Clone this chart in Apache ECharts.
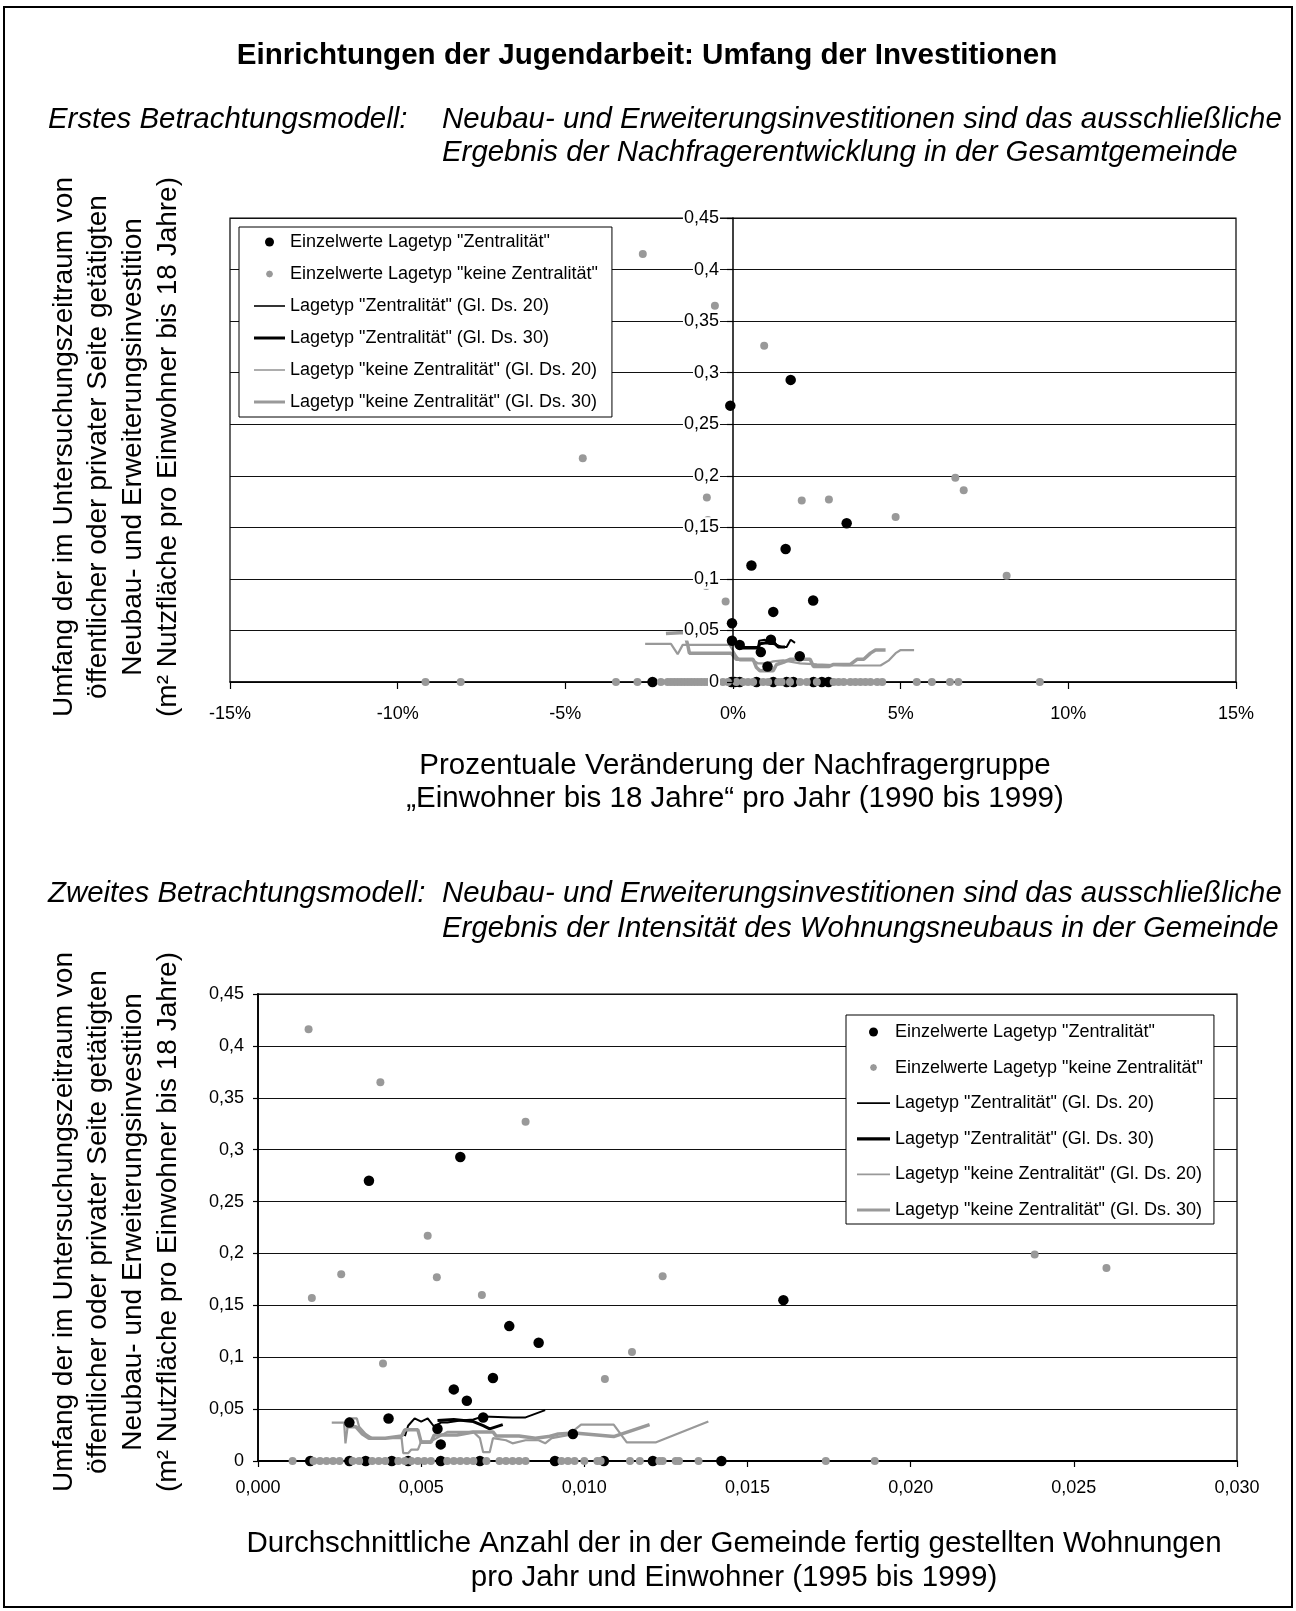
<!DOCTYPE html>
<html><head><meta charset="utf-8">
<script src="https://cdn.jsdelivr.net/npm/echarts@6/dist/echarts.min.js"></script>
<style>html,body{margin:0;padding:0;background:#fff}#c{width:1296px;height:1611px}</style>
</head><body><div id="c"></div>
<script>
const FONT = '"Liberation Sans", Arial, Helvetica, sans-serif';

// ---------- names ----------
const seriesNames = [
  'Einzelwerte Lagetyp "Zentralität"',
  'Einzelwerte Lagetyp "keine Zentralität"',
  'Lagetyp "Zentralität" (Gl. Ds. 20)',
  'Lagetyp "Zentralität" (Gl. Ds. 30)',
  'Lagetyp "keine Zentralität" (Gl. Ds. 20)',
  'Lagetyp "keine Zentralität" (Gl. Ds. 30)'
];

// ---------- ticks ----------
const topXTicks = {min: -15, max: 15, interval: 5};
const botXTicks = {min: 0, max: 0.03, interval: 0.005};
const yTicks = {min: 0, max: 0.45, interval: 0.05};

// ---------- top chart: x = % change per year, y = m² per inhabitant ----------
const topZent = [[-0.08,0.268],[1.72,0.293],[3.39,0.154],[1.57,0.129],[0.55,0.113],[2.39,0.079],[1.2,0.068],
  [-0.03,0.057],[-0.03,0.040],[0.2,0.036],[1.13,0.041],[0.83,0.029],[1.99,0.025],[1.03,0.015]];
const topZentAtZeroX = [-2.4,-0.05,0.05,0.2,0.7,1.2,1.6,1.8,2.4,2.65,2.85];
const topKeine = [[-2.69,0.415],[-0.54,0.365],[0.93,0.326],[-4.48,0.217],[6.63,0.198],[6.88,0.186],[-0.78,0.179],
  [2.05,0.176],[2.86,0.177],[4.85,0.160],[8.16,0.103],[-0.22,0.078],[-0.75,0.157],[-0.8,0.093]];
const topKeineAtZeroX = [-9.17,-8.12,-3.49,-2.85,-2.15,-1.95,-1.85,-1.75,-1.65,-1.55,-1.45,-1.35,-1.25,-1.15,-1.05,
  -0.95,-0.85,-0.75,-0.3,-0.15,0.1,0.3,0.45,0.6,0.9,1.05,1.35,1.45,1.7,2.0,2.2,2.5,3.0,3.15,3.3,3.5,3.65,3.8,3.95,
  4.1,4.3,4.45,5.48,5.93,6.47,6.72,9.15];
const topZentGd20 = [[0.22,0.034],[0.75,0.034],[0.78,0.040],[0.95,0.041],[1.05,0.038],[1.2,0.040],[1.3,0.036],
  [1.45,0.034],[1.6,0.034],[1.72,0.041],[1.85,0.038]];
const topZentGd30 = [[0.2,0.033],[0.75,0.033],[0.8,0.037],[1.0,0.038],[1.25,0.037],[1.35,0.034],[1.55,0.034]];
const topKeineGd20 = [[-2.62,0.037],[-1.85,0.037],[-1.65,0.027],[-1.5,0.036],[-0.1,0.036],[0.1,0.025],[0.2,0.021],
  [0.6,0.021],[0.75,0.018],[1.0,0.018],[1.2,0.020],[1.5,0.021],[2.0,0.018],[2.5,0.017],[3.3,0.016],[4.4,0.016],
  [4.65,0.021],[4.85,0.028],[5.0,0.031],[5.4,0.031]];
const topKeineGd30 = [[-2.0,0.047],[-1.45,0.048],[-1.35,0.036],[-1.3,0.028],[-0.05,0.028],[0.1,0.022],[0.6,0.022],
  [0.7,0.014],[0.8,0.011],[1.2,0.011],[1.3,0.017],[1.5,0.019],[1.7,0.022],[2.3,0.022],[2.4,0.015],[2.85,0.015],
  [3.0,0.017],[3.5,0.017],[3.7,0.022],[3.9,0.022],[4.1,0.028],[4.25,0.031],[4.55,0.031]];

// ---------- bottom chart: x = dwellings per year and inhabitant ----------
const botZent = [[0.0034,0.270],[0.0062,0.293],[0.0161,0.155],[0.0077,0.130],[0.0086,0.114],[0.0072,0.080],
  [0.0060,0.069],[0.0064,0.058],[0.0040,0.041],[0.0028,0.037],[0.0069,0.042],[0.0055,0.031],[0.00965,0.026],[0.0056,0.016]];
const botZentAtZeroX = [0.0016,0.0028,0.0033,0.0041,0.0046,0.0056,0.0068,0.0091,0.0106,0.0121,0.0142];
const botKeine = [[0.00155,0.416],[0.00375,0.365],[0.0082,0.327],[0.0052,0.217],[0.0238,0.199],[0.0260,0.186],
  [0.00255,0.180],[0.00548,0.177],[0.0124,0.178],[0.00165,0.157],[0.00686,0.160],[0.01146,0.105],[0.00383,0.094],[0.01063,0.079]];
const botKeineAtZeroX = [0.00106,0.0017,0.0019,0.0021,0.0023,0.0025,0.0029,0.0031,0.0035,0.0037,0.0039,0.0043,0.0045,
  0.0047,0.0049,0.0051,0.0053,0.0058,0.0060,0.0062,0.0064,0.0066,0.0070,0.0074,0.0076,0.0078,0.0080,0.0082,0.0093,
  0.0095,0.0097,0.0100,0.0104,0.0105,0.0114,0.0117,0.0123,0.0124,0.0128,0.0129,0.0135,0.0174,0.0189];
const botZentGd20 = [[0.0045,0.024],[0.0046,0.034],[0.0048,0.041],[0.0050,0.038],[0.0052,0.041],[0.0054,0.033],
  [0.0056,0.037],[0.0058,0.037],[0.0062,0.039],[0.0066,0.040],[0.0069,0.043],[0.0078,0.042],[0.0082,0.042],[0.0088,0.049]];
const botZentGd30 = [[0.0055,0.039],[0.0060,0.040],[0.0066,0.038],[0.0069,0.034],[0.0071,0.031],[0.0075,0.035]];
const botKeineGd20 = [[0.00226,0.037],[0.00264,0.037],[0.00268,0.017],[0.00278,0.041],[0.00303,0.041],[0.0031,0.033],
  [0.0033,0.026],[0.0035,0.022],[0.0044,0.022],[0.00445,0.0075],[0.0046,0.0075],[0.0047,0.011],[0.0049,0.011],
  [0.0050,0.019],[0.0053,0.019],[0.0058,0.028],[0.0066,0.028],[0.0068,0.022],[0.0069,0.0085],[0.0071,0.0085],
  [0.0072,0.022],[0.0076,0.020],[0.0078,0.017],[0.0082,0.020],[0.0086,0.020],[0.0088,0.017],[0.0090,0.022],
  [0.0095,0.025],[0.0099,0.035],[0.0109,0.035],[0.0113,0.018],[0.0122,0.018],[0.0138,0.038]];
const botKeineGd30 = [[0.0027,0.033],[0.0030,0.033],[0.0032,0.026],[0.0034,0.022],[0.0039,0.022],[0.0044,0.024],
  [0.0045,0.030],[0.0049,0.030],[0.0050,0.018],[0.0053,0.018],[0.0054,0.025],[0.0061,0.025],[0.0066,0.028],
  [0.0072,0.028],[0.0073,0.024],[0.0080,0.024],[0.0085,0.022],[0.0089,0.0235],[0.0092,0.026],[0.0097,0.027],
  [0.0109,0.0235],[0.0120,0.035]];

// ---------- texts ----------
const titleText = 'Einrichtungen der Jugendarbeit: Umfang der Investitionen';
const model1Label = 'Erstes Betrachtungsmodell:';
const model1Text = 'Neubau- und Erweiterungsinvestitionen sind das ausschließliche\nErgebnis der Nachfragerentwicklung in der Gesamtgemeinde';
const model2Label = 'Zweites Betrachtungsmodell:';
const model2Text = 'Neubau- und Erweiterungsinvestitionen sind das ausschließliche\nErgebnis der Intensität des Wohnungsneubaus in der Gemeinde';
const yName = 'Umfang der im Untersuchungszeitraum von\nöffentlicher oder privater Seite getätigten\nNeubau- und Erweiterungsinvestition\n(m² Nutzfläche pro Einwohner bis 18 Jahre)';
const xNameTop = 'Prozentuale Veränderung der Nachfragergruppe\n„Einwohner bis 18 Jahre“ pro Jahr (1990 bis 1999)';
const xNameBot = 'Durchschnittliche Anzahl der in der Gemeinde fertig gestellten Wohnungen\npro Jahr und Einwohner (1995 bis 1999)';

// ---------- build ----------
const withZero = xs => xs.map(x => [x, 0]);
const BLACK = '#000', GRAY = '#999';
const yFmt = v => String(Math.round(v * 100) / 100).replace('.', ',');

function seriesFor(xi, yi, zent, zentZ, keine, keineZ, zg20, zg30, kg20, kg30) {
  return [
    {name: seriesNames[0], type: 'scatter', xAxisIndex: xi, yAxisIndex: yi, data: zent.concat(withZero(zentZ)),
     symbolSize: 10.5, itemStyle: {color: BLACK, opacity: 1}, z: 2},
    {name: seriesNames[1], type: 'scatter', xAxisIndex: xi, yAxisIndex: yi, data: keine.concat(withZero(keineZ)),
     symbolSize: 8, itemStyle: {color: GRAY, opacity: 1}, z: 2},
    {name: seriesNames[2], type: 'line', xAxisIndex: xi, yAxisIndex: yi, data: zg20, symbol: 'none',
     color: BLACK, lineStyle: {color: BLACK, width: 2}, z: 2},
    {name: seriesNames[3], type: 'line', xAxisIndex: xi, yAxisIndex: yi, data: zg30, symbol: 'none',
     color: BLACK, lineStyle: {color: BLACK, width: 3}, z: 2},
    {name: seriesNames[4], type: 'line', xAxisIndex: xi, yAxisIndex: yi, data: kg20, symbol: 'none',
     color: GRAY, lineStyle: {color: GRAY, width: 2.2}, z: 2},
    {name: seriesNames[5], type: 'line', xAxisIndex: xi, yAxisIndex: yi, data: kg30, symbol: 'none',
     color: GRAY, lineStyle: {color: GRAY, width: 3.5}, z: 2}
  ];
}

const legendIcons = [
  'circle',
  'path://M0,0M9,9M4.5,1L7,2L8,4.5L7,7L4.5,8L2,7L1,4.5L2,2Z',
  'path://M0,0H31V1.6H0Z',
  'path://M0,0H31V3H0Z',
  'path://M0,0H31V1.6H0Z',
  'path://M0,0H31V3H0Z'
];
function legendFor(left, top, pad, gap, itemWidth, textGap) {
  return {
    orient: 'vertical', left: left, top: top, padding: pad, itemGap: gap,
    itemWidth: itemWidth, itemHeight: 9, itemTextGap: textGap,
    backgroundColor: '#fff', borderColor: '#000', borderWidth: 1, borderRadius: 0,
    selectedMode: false, z: 5,
    textStyle: {fontFamily: FONT, fontSize: 18, lineHeight: 20, color: '#000'},
    data: seriesNames.map((n, i) => ({name: n, icon: legendIcons[i]}))
  };
}

const textEl = (x, y, text, o) => ({
  type: 'text', x: x, y: y, rotation: o.rot || 0, z: 10, silent: true,
  style: Object.assign({text: text, fill: '#000', fontFamily: FONT, fontSize: o.size || 29.4,
    fontWeight: o.weight || 'normal', fontStyle: o.style || 'normal',
    align: o.align || 'center', textAlign: o.align || 'center',
    verticalAlign: 'middle', textVerticalAlign: 'middle', lineHeight: o.lh || 34})
});

const axisLabelStyle = {fontFamily: FONT, fontSize: 18, color: '#000'};

const option = {
  animation: false,
  backgroundColor: '#fff',
  grid: [
    {left: 230, top: 218, width: 1006, height: 464, show: true, borderColor: '#000', borderWidth: 1.2, backgroundColor: 'transparent'},
    {left: 258, top: 994, width: 979, height: 467, show: true, borderColor: '#000', borderWidth: 1.2, backgroundColor: 'transparent'},
    // helper grid whose left edge sits at x = 0 % of the top chart: carries the crossing y axis
    {left: 733, top: 218, width: 503, height: 464, show: false}
  ],
  xAxis: [
    {type: 'value', gridIndex: 0, min: topXTicks.min, max: topXTicks.max, interval: topXTicks.interval,
     axisLine: {show: true, onZero: true, lineStyle: {color: '#000', width: 1.5}},
     axisTick: {show: true, inside: false, length: 7, lineStyle: {color: '#000', width: 1.2}},
     axisLabel: Object.assign({margin: 23, formatter: v => v + '%', showMinLabel: true, showMaxLabel: true}, axisLabelStyle),
     splitLine: {show: false}},
    {type: 'value', gridIndex: 1, min: botXTicks.min, max: botXTicks.max, interval: botXTicks.interval,
     axisLine: {show: true, onZero: true, lineStyle: {color: '#000', width: 1.8}},
     axisTick: {show: true, inside: false, length: 6, lineStyle: {color: '#000', width: 1.2}},
     axisLabel: Object.assign({margin: 18, formatter: v => v.toFixed(3).replace('.', ','), showMinLabel: true, showMaxLabel: true}, axisLabelStyle),
     splitLine: {show: false}},
    {type: 'value', gridIndex: 2, min: 0, max: topXTicks.max, show: false}
  ],
  yAxis: [
    {type: 'value', gridIndex: 0, min: yTicks.min, max: yTicks.max, interval: yTicks.interval,
     axisLine: {show: false, onZero: false}, axisTick: {show: false}, axisLabel: {show: false},
     splitLine: {show: true, lineStyle: {color: '#111', width: 1.1}}, z: 0},
    {type: 'value', gridIndex: 2, min: yTicks.min, max: yTicks.max, interval: yTicks.interval, position: 'left',
     axisLine: {show: true, onZero: false, lineStyle: {color: '#000', width: 1.5}},
     axisTick: {show: true, inside: false, length: 6, lineStyle: {color: '#000', width: 1.2}},
     axisLabel: Object.assign({margin: 13, formatter: yFmt, backgroundColor: '#fff', padding: [1, 1]}, axisLabelStyle),
     splitLine: {show: false}, z: 3},
    {type: 'value', gridIndex: 1, min: yTicks.min, max: yTicks.max, interval: yTicks.interval,
     axisLine: {show: true, onZero: true, lineStyle: {color: '#000', width: 1.8}},
     axisTick: {show: true, inside: false, length: 5, lineStyle: {color: '#000', width: 1.2}},
     axisLabel: Object.assign({margin: 14, formatter: yFmt}, axisLabelStyle),
     splitLine: {show: true, lineStyle: {color: '#111', width: 1.1}}}
  ],
  legend: [
    legendFor(239, 227, [5, 14, 5, 15], 12, 31, 4),
    legendFor(846, 1015, [7, 11, 4, 11], 15.6, 33, 3)
  ],
  graphic: [
    {type: 'rect', shape: {x: 4, y: 7, width: 1288, height: 1600}, style: {fill: 'none', stroke: '#000', lineWidth: 2}, z: 10, silent: true},
    textEl(647, 56, titleText, {weight: 'bold', size: 29.6}),
    textEl(48, 120, model1Label, {style: 'italic', align: 'left'}),
    textEl(442, 136.5, model1Text, {style: 'italic', align: 'left', lh: 33}),
    textEl(48, 894, model2Label, {style: 'italic', align: 'left'}),
    textEl(442, 911.5, model2Text, {style: 'italic', align: 'left', lh: 35}),
    textEl(116, 447, yName, {rot: Math.PI / 2, size: 28, lh: 34.7}),
    textEl(116, 1222, yName, {rot: Math.PI / 2, size: 28, lh: 34.7}),
    textEl(735, 782.5, xNameTop, {size: 29.5, lh: 33}),
    textEl(734, 1561, xNameBot, {size: 29.5, lh: 34})
  ],
  series: [].concat(
    seriesFor(0, 0, topZent, topZentAtZeroX, topKeine, topKeineAtZeroX, topZentGd20, topZentGd30, topKeineGd20, topKeineGd30),
    seriesFor(1, 2, botZent, botZentAtZeroX, botKeine, botKeineAtZeroX, botZentGd20, botZentGd30, botKeineGd20, botKeineGd30)
  )
};

const chart = echarts.init(document.getElementById('c'), null, {renderer: 'canvas', width: 1296, height: 1611});
chart.setOption(option);
</script>
</body></html>
